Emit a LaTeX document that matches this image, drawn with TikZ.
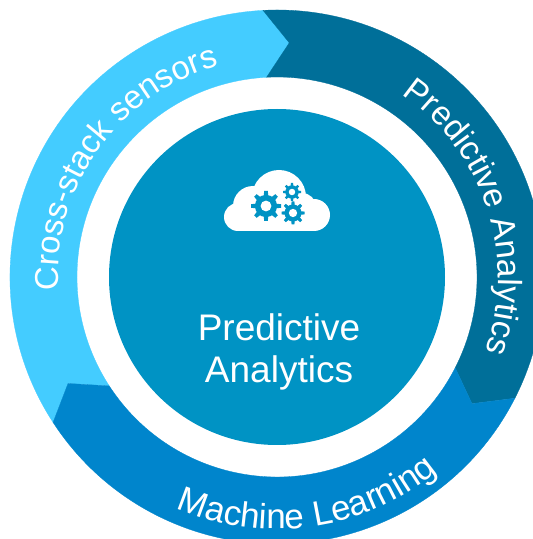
\documentclass[tikz,border=0pt]{standalone}
\usepackage{fontspec}
\setmainfont{Liberation Sans}
\usetikzlibrary{decorations.text}
\definecolor{lightseg}{HTML}{44CCFF}
\definecolor{darkseg}{HTML}{006F99}
\definecolor{blueseg}{HTML}{0085CC}
\definecolor{discblue}{HTML}{0093C4}
\newcommand\ringfont{\fontsize{33.5}{33.5}\selectfont\color{white}}
\newcommand\ringfontb{\fontsize{35}{35}\selectfont\color{white}}
\newcommand\ringfontc{\fontsize{33}{33}\selectfont\color{white}}
% gear: x, y, radius, teeth
\newcommand\geargly[4]{%
  \fill[discblue] (#1,#2) circle[radius=#3*0.74pt];
  \foreach \g in {1,...,#4}{
    \fill[discblue,shift={(#1,#2)},rotate=\g*360/#4]
      (#3*0.6,-#3*0.16) -- (#3,-#3*0.12) -- (#3,#3*0.12) -- (#3*0.6,#3*0.16) -- cycle;
  }
  \fill[white] (#1,#2) circle[radius=#3*0.36pt];
}
\tikzset{
  segment/.style={line width=0.3pt,line join=miter},
  ringtext/.style={decorate,decoration={text along path,text align=center,text={|\ringfont|#1}}},
  ringtextb/.style={decorate,decoration={text along path,text align=center,text={|\ringfontb|#1}}},
  ringtextc/.style={decorate,decoration={text along path,text align=center,text={|\ringfontc|#1}}},
  centertext/.style={text=white,font=\fontsize{37}{42}\selectfont,align=center,inner sep=0pt}
}
\begin{document}
\begin{tikzpicture}[x=1pt,y=1pt]
\useasboundingbox (0,0) rectangle (533,539);
\clip (0,0) rectangle (533,539);
\fill[white] (0,0) rectangle (533,539);
\begin{scope}[shift={(277,262)}]
  % ring segments
  \fill[lightseg,draw=lightseg,segment] (213:267pt) arc[start angle=213,end angle=93,radius=267pt]
     -- (87:234.5pt) -- (93:200pt) arc[start angle=93,end angle=213,radius=200pt] -- (207:234.5pt) -- cycle;
  \fill[darkseg,draw=darkseg,segment] (93:267pt) arc[start angle=93,end angle=-27,radius=267pt]
     -- (-33:232.5pt) -- (-27:200pt) arc[start angle=-27,end angle=93,radius=200pt] -- (87:234.5pt) -- cycle;
  \fill[blueseg,draw=blueseg,segment] (-27:267pt) arc[start angle=-27,end angle=-147,radius=267pt]
     -- (207:234.5pt) -- (213:200pt) arc[start angle=213,end angle=333,radius=200pt] -- (-33:232.5pt) -- cycle;
  % central disc
  \fill[discblue] (0,0) circle[radius=168pt];
  % ring labels
  \path[ringtextc={Cross-stack sensors}] (204:219pt) arc[start angle=204,end angle=85,radius=219pt];
  \path[ringtext={Predictive Analytics}] (78:221pt) arc[start angle=78,end angle=-42,radius=221pt];
  \path[ringtextb={Machine Learning}] (218:252pt) arc[start angle=218,end angle=338,radius=252pt];
\end{scope}
% cloud icon
\fill[white] (238,322) circle[radius=14pt] (253,333) circle[radius=20pt]
  (279,342) circle[radius=27pt] (314,324) circle[radius=16pt] (302,332) circle[radius=14pt];
\fill[white] (238,308) rectangle (314,325);
\geargly{266}{333}{15}{8}
\geargly{292}{347}{9}{8}
\geargly{293}{326}{11.5}{8}
\node[centertext] (center) at (279,187) {Predictive\\Analytics};
\end{tikzpicture}
\end{document}
